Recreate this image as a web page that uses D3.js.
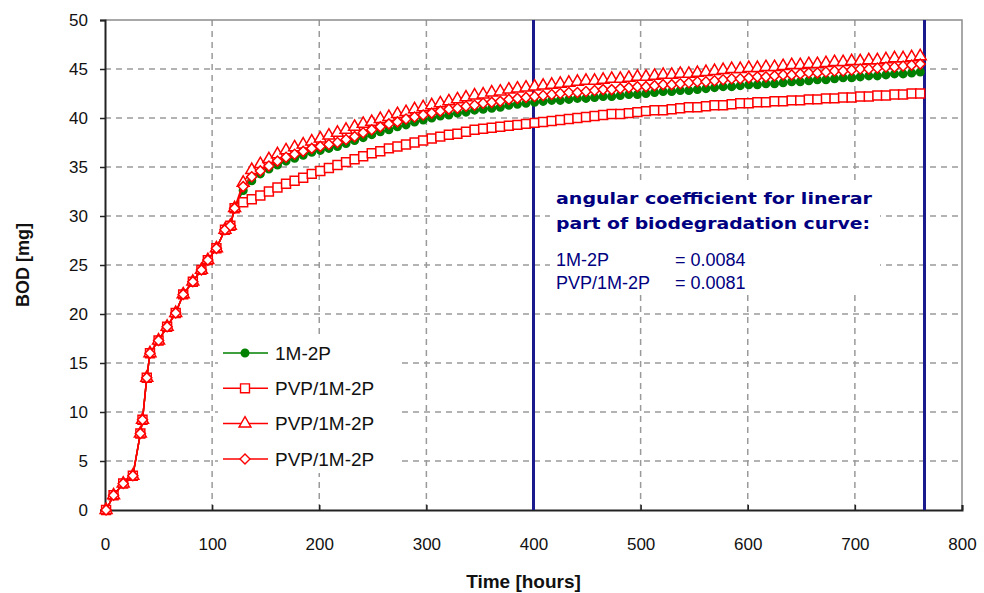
<!DOCTYPE html>
<html>
<head>
<meta charset="utf-8">
<script src="https://cdn.jsdelivr.net/npm/d3@7"></script>
<style>
  body { margin: 0; background: #fff; }
  svg { display: block; font-family: "Liberation Sans", Arial, sans-serif; }
</style>
</head>
<body>
<svg id="chart" width="984" height="593"></svg>
<script>
// hours and BOD values
var earlyHours = [1, 8, 17, 26, 33, 35, 39, 42, 50, 58, 66, 73, 82, 90, 96, 104, 112, 117, 121];
var earlyBod = [0, 1.5, 2.7, 3.5, 7.8, 9.2, 13.5, 16.0, 17.3, 18.7, 20.1, 22.0, 23.3, 24.5, 25.5, 26.7, 28.6, 29.0, 30.8];

var hours = [129,137,145,153,161,169,177,185,193,201,209,217,225,233,241,249,257,265,273,281,289,297,305,313,321,329,337,345,353,361,369,377,385,393,401,
  409,417,425,433,441,449,457,465,473,481,489,497,505,513,521,529,537,545,553,561,569,577,585,593,601,609,617,625,633,641,649,657,665,673,681,689,697,705,713,721,729,737,745,753,761];

var bod1M2P = [32.6,33.6,34.3,34.8,35.2,35.6,35.9,36.2,36.5,36.7,36.9,37.1,37.4,37.7,38.0,38.3,38.6,38.8,39.1,39.3,39.6,39.8,40.0,40.2,40.3,40.5,40.6,40.8,40.9,41.0,41.1,41.3,41.4,41.5,41.6,
  41.7,41.8,41.8,41.9,42.0,42.0,42.1,42.2,42.2,42.3,42.4,42.4,42.5,42.6,42.7,42.7,42.8,42.8,42.9,43.0,43.1,43.2,43.2,43.3,43.4,43.4,43.5,43.5,43.6,43.7,43.7,43.8,43.9,43.9,44.0,44.1,44.1,44.2,44.3,44.3,44.4,44.5,44.5,44.6,44.7];
var bodPvpSquare = [31.4,31.7,32.1,32.5,32.9,33.3,33.6,33.9,34.3,34.6,34.9,35.2,35.5,35.8,36.1,36.4,36.6,36.9,37.1,37.3,37.5,37.7,37.9,38.1,38.3,38.4,38.6,38.8,38.9,39.0,39.1,39.2,39.3,39.4,39.5,
  39.6,39.7,39.8,39.9,40.0,40.1,40.2,40.3,40.4,40.4,40.5,40.6,40.7,40.8,40.8,40.9,41.0,41.1,41.1,41.2,41.3,41.3,41.4,41.5,41.5,41.6,41.6,41.7,41.7,41.8,41.8,41.9,41.9,42.0,42.0,42.1,42.1,42.2,42.2,42.3,42.3,42.4,42.4,42.5,42.5];
var bodPvpTriangle = [33.4,34.7,35.3,35.8,36.3,36.7,37.0,37.3,37.6,37.9,38.2,38.5,38.8,39.1,39.4,39.6,39.9,40.1,40.4,40.6,40.9,41.1,41.3,41.5,41.7,41.9,42.1,42.3,42.4,42.6,42.7,42.9,43.0,43.1,43.2,
  43.3,43.4,43.5,43.6,43.7,43.8,43.8,43.9,44.0,44.0,44.1,44.2,44.2,44.3,44.4,44.4,44.5,44.5,44.6,44.7,44.8,44.9,45.0,45.0,45.1,45.1,45.2,45.2,45.3,45.4,45.4,45.5,45.5,45.6,45.7,45.7,45.8,45.8,45.9,45.9,46.0,46.1,46.1,46.2,46.3];
var bodPvpDiamond = [33.0,34.0,34.6,35.1,35.6,36.0,36.3,36.6,36.9,37.1,37.3,37.5,37.8,38.1,38.5,38.8,39.1,39.4,39.6,39.9,40.1,40.3,40.5,40.7,40.9,41.0,41.2,41.3,41.5,41.6,41.7,41.9,42.0,42.1,42.2,
  42.3,42.4,42.5,42.6,42.6,42.7,42.8,42.9,42.9,43.0,43.1,43.2,43.2,43.3,43.4,43.4,43.5,43.6,43.7,43.7,43.8,43.9,44.0,44.0,44.1,44.2,44.2,44.3,44.4,44.4,44.5,44.6,44.6,44.7,44.8,44.8,44.9,45.0,45.0,45.1,45.2,45.2,45.3,45.4,45.5];

var seriesNames = ["1M-2P", "PVP/1M-2P", "PVP/1M-2P", "PVP/1M-2P"];
var seriesMarkers = ["dot", "square", "triangle", "diamond"];
var seriesValues = [bod1M2P, bodPvpSquare, bodPvpTriangle, bodPvpDiamond];

var xTicks = [0, 100, 200, 300, 400, 500, 600, 700, 800];
var yTicks = [0, 5, 10, 15, 20, 25, 30, 35, 40, 45, 50];
var markerLines = [400, 765];

var noteBold = ["angular coefficient for linerar", "part of biodegradation curve:"];
var noteRows = [["1M-2P", "= 0.0084"], ["PVP/1M-2P", "= 0.0081"]];

function drawChart() {
  var left = 105, right = 962, top = 20, bottom = 510;
  var red = "#ff0000", green = "#008000", navy = "#000080";

  var x = d3.scaleLinear().domain([0, 800]).range([left, right]);
  var y = d3.scaleLinear().domain([0, 50]).range([bottom, top]);

  var svg = d3.select("#chart");

  // grid
  svg.append("g")
    .selectAll("line")
    .data(yTicks.filter(d => d > 0 && d < 50))
    .join("line")
      .attr("x1", left).attr("x2", right)
      .attr("y1", d => y(d)).attr("y2", d => y(d))
      .attr("stroke", "#9a9a9a").attr("stroke-width", 1.5)
      .attr("stroke-dasharray", "6,5");
  svg.append("g")
    .selectAll("line")
    .data(xTicks.filter(d => d > 0 && d < 800))
    .join("line")
      .attr("x1", d => x(d)).attr("x2", d => x(d))
      .attr("y1", top).attr("y2", bottom)
      .attr("stroke", "#9a9a9a").attr("stroke-width", 1.5)
      .attr("stroke-dasharray", "6,5");

  // plot frame top/right
  svg.append("path")
    .attr("d", `M${left},${top}H${right}V${bottom}`)
    .attr("fill", "none").attr("stroke", "#8c8c8c").attr("stroke-width", 1.5);

  // white boxes behind the note and legend
  svg.append("rect").attr("x", 550).attr("y", 180).attr("width", 330).attr("height", 115).attr("fill", "#fff");
  svg.append("rect").attr("x", 218).attr("y", 337).attr("width", 180).attr("height", 136).attr("fill", "#fff");

  // axes
  var xAxis = d3.axisBottom(x).tickValues(xTicks).tickSize(-5).tickPadding(28);
  var yAxis = d3.axisLeft(y).tickValues(yTicks).tickSize(5).tickPadding(12);

  var gx = svg.append("g").attr("transform", `translate(0,${bottom})`).call(xAxis);
  var gy = svg.append("g").attr("transform", `translate(${left},0)`).call(yAxis);
  [gx, gy].forEach(function(g) {
    g.select(".domain").attr("stroke", "#222").attr("stroke-width", 2);
    g.selectAll(".tick line").attr("stroke", "#222").attr("stroke-width", 1.5);
    g.selectAll("text").attr("font-size", 17).attr("fill", "#111")
      .attr("font-family", "'Liberation Sans', Arial, sans-serif");
  });
  gx.selectAll("text").attr("dy", "0.71em");

  svg.append("text")
    .attr("x", (left + right) / 2 - 10).attr("y", 588)
    .attr("text-anchor", "middle")
    .attr("font-size", 19).attr("font-weight", "bold").attr("fill", "#111")
    .text("Time [hours]");
  svg.append("text")
    .attr("transform", "translate(29,265) rotate(-90)")
    .attr("text-anchor", "middle")
    .attr("font-size", 18).attr("font-weight", "bold").attr("fill", "#111")
    .text("BOD [mg]");

  // blue vertical lines
  svg.append("g")
    .selectAll("line")
    .data(markerLines)
    .join("line")
      .attr("x1", d => x(d)).attr("x2", d => x(d))
      .attr("y1", top).attr("y2", bottom)
      .attr("stroke", "#1a1a8c").attr("stroke-width", 3);

  var line = d3.line().x(d => x(d[0])).y(d => y(d[1]));

  function markerPath(kind) {
    if (kind === "square") return d3.symbol(d3.symbolSquare, 80)();
    if (kind === "triangle") return d3.symbol(d3.symbolTriangle, 62)();
    if (kind === "diamond") return d3.symbol(d3.symbolSquare, 50)();
    return d3.symbol(d3.symbolCircle, 45)();
  }
  function markerRotate(kind) {
    return kind === "diamond" ? " rotate(45)" : "";
  }

  seriesValues.forEach(function(vals, i) {
    var pts = earlyHours.map((h, j) => [h, earlyBod[j]])
      .concat(hours.map((h, j) => [h, vals[j]]));
    var kind = seriesMarkers[i];
    var col = i === 0 ? green : red;
    var g = svg.append("g");
    g.append("path")
      .datum(pts)
      .attr("d", line)
      .attr("fill", "none")
      .attr("stroke", col)
      .attr("stroke-width", 1.5);
    g.selectAll("path.m")
      .data(pts)
      .join("path")
        .attr("class", "m")
        .attr("d", markerPath(kind))
        .attr("transform", d => `translate(${x(d[0])},${y(d[1])})` + markerRotate(kind))
        .attr("fill", i === 0 ? green : "#fff")
        .attr("stroke", col)
        .attr("stroke-width", 1.5);
  });

  // legend
  var legend = svg.append("g").attr("transform", "translate(223,353)");
  var rows = legend.selectAll("g")
    .data(seriesNames)
    .join("g")
      .attr("transform", (d, i) => `translate(0,${i * 35.3})`);
  rows.append("line")
    .attr("x1", 0).attr("x2", 45).attr("y1", 0).attr("y2", 0)
    .attr("stroke", (d, i) => i === 0 ? green : red).attr("stroke-width", 1.5);
  rows.append("path")
    .attr("d", (d, i) => markerPath(seriesMarkers[i]))
    .attr("transform", (d, i) => "translate(22,0)" + markerRotate(seriesMarkers[i]))
    .attr("fill", (d, i) => i === 0 ? green : "#fff")
    .attr("stroke", (d, i) => i === 0 ? green : red)
    .attr("stroke-width", 1.4);
  rows.append("text")
    .attr("x", 52).attr("y", 0).attr("dy", "0.36em")
    .attr("font-size", 19).attr("fill", "#111")
    .text(d => d);

  // note
  var note = svg.append("g").attr("fill", navy);
  note.selectAll("text.b")
    .data(noteBold)
    .join("text")
      .attr("class", "b")
      .attr("x", 556).attr("y", (d, i) => 204 + i * 25)
      .attr("font-family", "'DejaVu Sans', Verdana, sans-serif")
      .attr("font-weight", "bold").attr("font-size", 16)
      .attr("textLength", (d, i) => i === 0 ? 316 : 314)
      .attr("lengthAdjust", "spacingAndGlyphs")
      .text(d => d);
  var nr = note.selectAll("g.r")
    .data(noteRows)
    .join("g")
      .attr("class", "r")
      .attr("transform", (d, i) => `translate(556,${266 + i * 23})`);
  nr.append("text").attr("font-size", 18).text(d => d[0]);
  nr.append("text").attr("x", 119).attr("font-size", 18).text(d => d[1]);
}

drawChart();
</script>
</body>
</html>
